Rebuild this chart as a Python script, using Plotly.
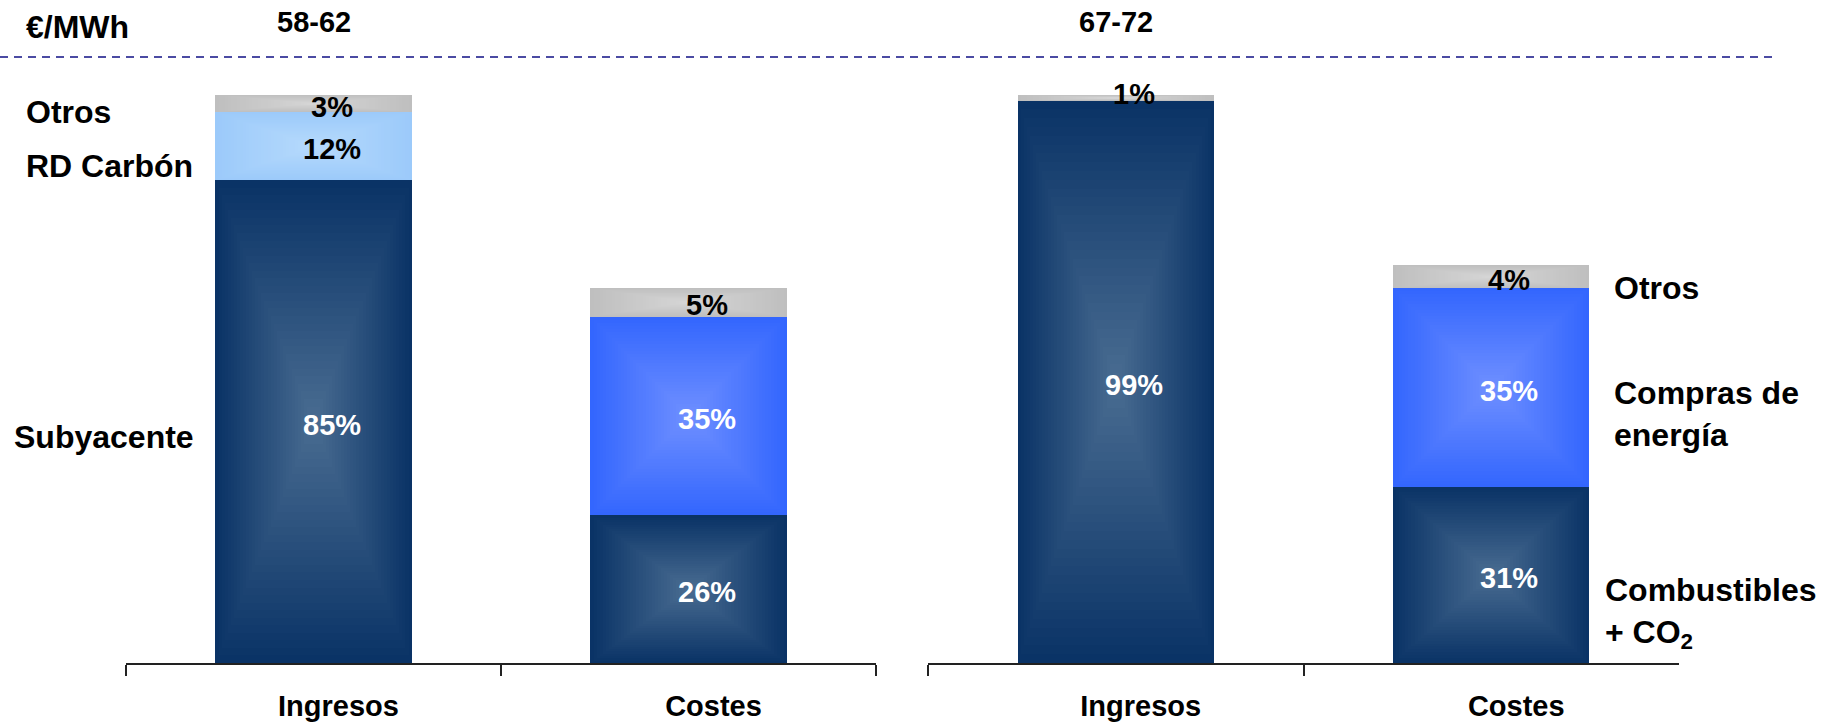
import plotly.graph_objects as go

# ---- datos ---------------------------------------------------------------
categorias = ["Ingresos", "Costes"]
rangos_precio = ["58-62", "67-72"]

# Panel izquierdo (58-62 €/MWh): % sobre ingresos
ingresos_izq = [85, 12, 3]
segmentos_ingresos_izq = ["Subyacente", "RD Carbón", "Otros"]
costes_izq = [26, 35, 5]

# Panel derecho (67-72 €/MWh)
ingresos_der = [99, 1]
segmentos_ingresos_der = ["Subyacente", "Otros"]
costes_der = [31, 35, 4]

segmentos_costes = ["Combustibles + CO2", "Compras de energía", "Otros"]

# ---- estilo --------------------------------------------------------------
FONT = "Liberation Sans, Arial, sans-serif"
# (color de borde, color del centro) para el degradado rectangular
COLORES = {
    "Subyacente": ("#0A3366", "#4A6D92"),
    "Combustibles + CO2": ("#0A3366", "#4A6D92"),
    "RD Carbón": ("#9CCAFA", "#B6DAFC"),
    "Compras de energía": ("#3366FE", "#7090FF"),
    "Otros": ("#BFBFBF", "#D6D6D6"),
}
TEXTO_BLANCO = {"Subyacente", "Combustibles + CO2", "Compras de energía"}
ANCHO_BARRA = 0.523
CAPAS = 32


def hex2rgb(h):
    h = h.lstrip("#")
    return tuple(int(h[i:i + 2], 16) for i in (0, 2, 4))


def mezcla(a, b, t):
    ra, rb = hex2rgb(a), hex2rgb(b)
    return "rgb(%d,%d,%d)" % tuple(round(x + (y - x) * t) for x, y in zip(ra, rb))


paneles = [
    ("x", [("Ingresos", ingresos_izq, segmentos_ingresos_izq),
           ("Costes", costes_izq, segmentos_costes)]),
    ("x2", [("Ingresos", ingresos_der, segmentos_ingresos_der),
            ("Costes", costes_der, segmentos_costes)]),
]

fig = go.Figure()
anotaciones = []

for eje, barras in paneles:
    # segmentos apilados: categoría, base, valor, nombre
    segs = []
    for cat, valores, nombres in barras:
        base = 0
        for v, n in zip(valores, nombres):
            segs.append((cat, base, v, n))
            base += v
    # capas concéntricas para simular el degradado desde el centro
    for k in range(CAPAS):
        t = k / CAPAS
        fig.add_trace(go.Bar(
            x=[s[0] for s in segs],
            base=[s[1] + s[2] * t / 2 for s in segs],
            y=[s[2] * (1 - t) for s in segs],
            width=[ANCHO_BARRA * (1 - t) for _ in segs],
            marker=dict(color=[mezcla(COLORES[s[3]][0], COLORES[s[3]][1], t) for s in segs],
                        line=dict(width=0)),
            xaxis=eje, yaxis="y",
            showlegend=False, hoverinfo="skip",
        ))
    # etiquetas de porcentaje
    for cat, base, v, n in segs:
        anotaciones.append(dict(
            x=cat, y=base + v / 2, xref=eje, yref="y",
            text=f"{v}%", showarrow=False, xshift=18,
            yshift=-3 if v >= 2 else 4,
            font=dict(family=FONT, size=29, weight="bold",
                      color="white" if n in TEXTO_BLANCO else "black"),
        ))

# rangos de precio sobre cada panel
for eje, rango in zip(["x", "x2"], rangos_precio):
    anotaciones.append(dict(
        x="Ingresos", xref=eje, y=1 - 22 / 723, yref="paper", text=rango,
        showarrow=False, xanchor="center", yanchor="middle",
        font=dict(family=FONT, size=29, weight="bold", color="black"),
    ))

W, H = 1824, 723


def px(xp, yp):
    return xp / W, 1 - yp / H


def etiqueta(texto, xp, yp, size=32):
    x, y = px(xp, yp)
    anotaciones.append(dict(
        x=x, y=y, xref="paper", yref="paper", text=texto, showarrow=False,
        xanchor="left", yanchor="middle", align="left",
        font=dict(family=FONT, size=size, weight="bold", color="black"),
    ))


etiqueta("€/MWh", 24, 27, 32)
etiqueta("Otros", 24, 112)
etiqueta("RD Carbón", 24, 166)
etiqueta("Subyacente", 12, 437)
etiqueta("Otros", 1612, 288)
etiqueta("Compras de<br>energía", 1612, 414)
etiqueta("Combustibles<br>+ CO<sub>2</sub>", 1603, 613)

eje_x = dict(
    type="category", categoryorder="array", categoryarray=categorias,
    range=[-0.5, 1.5], showline=True, linecolor="#222222", linewidth=1.5,
    ticks="outside", tickson="boundaries", ticklen=11, tickwidth=1.5,
    tickcolor="#222222", showgrid=False, zeroline=False,
    tickfont=dict(family=FONT, size=29, weight="bold", color="black"),
    ticklabelshift=25, ticklabelstandoff=16, fixedrange=True,
)

fig.update_layout(
    width=W, height=H,
    margin=dict(l=0, r=0, t=0, b=0),
    paper_bgcolor="white", plot_bgcolor="white",
    barmode="overlay", bargap=0,
    xaxis=dict(eje_x, domain=[126 / W, 876 / W], anchor="y"),
    xaxis2=dict(eje_x, domain=[928 / W, 1679 / W], anchor="y"),
    yaxis=dict(range=[0, 100], domain=[(H - 663) / H, (H - 95) / H],
               visible=False, fixedrange=True),
    annotations=anotaciones,
    shapes=[dict(type="line", xref="paper", yref="paper",
                 x0=0, x1=1774 / W, y0=1 - 57 / H, y1=1 - 57 / H,
                 line=dict(color="#4B4BA3", width=2, dash="8px,6px"))],
    showlegend=False,
)

fig.write_html("out.html", config={"displayModeBar": False})
